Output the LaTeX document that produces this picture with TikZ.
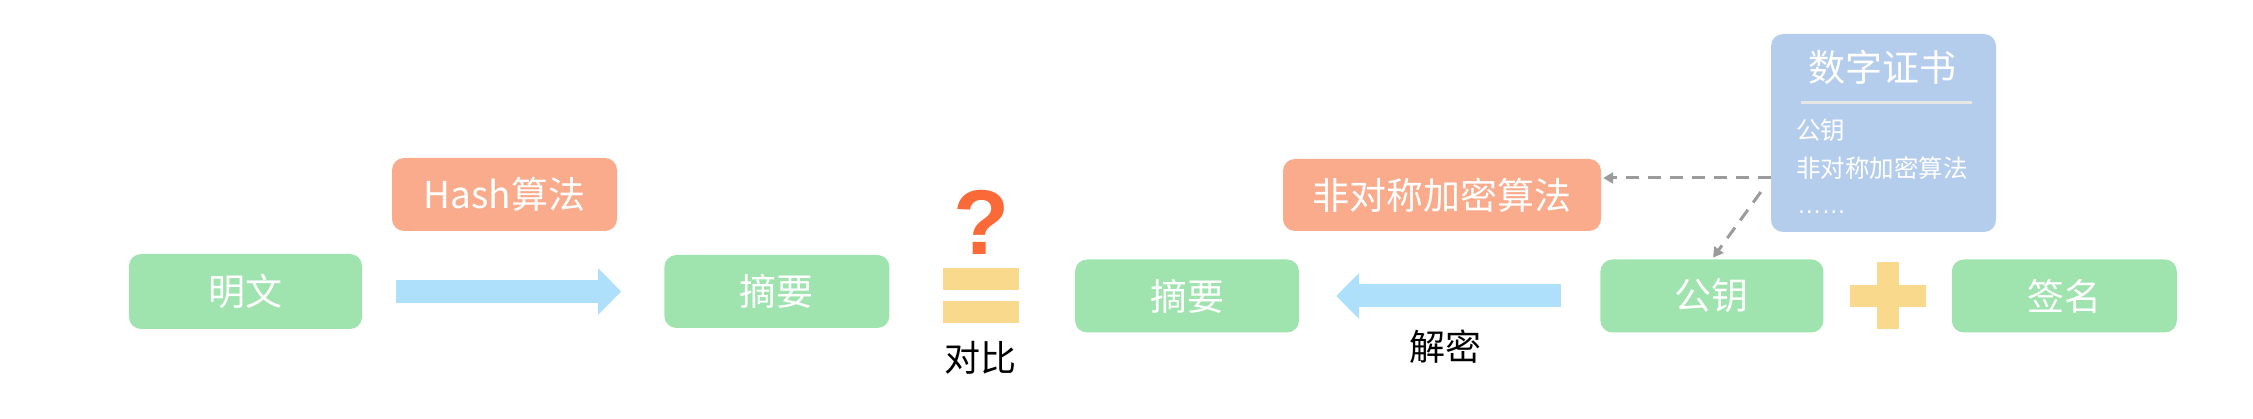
\documentclass[tikz,border=0pt]{standalone}
\usepackage{fontspec}
\setmainfont{Noto Sans CJK SC}
\newfontfamily\qmarkfont{Liberation Sans}
\usetikzlibrary{calc}
\usetikzlibrary{positioning}
\usetikzlibrary{arrows.meta}
\definecolor{boxgreen}{HTML}{9FE3AE}
\definecolor{boxsalmon}{HTML}{FAAB8C}
\definecolor{certblue}{HTML}{B5CDEC}
\definecolor{arrowblue}{HTML}{AEE0FC}
\definecolor{signyellow}{HTML}{F9D98B}
\definecolor{qorange}{HTML}{F96A38}
\definecolor{linegray}{HTML}{9B9B9B}
\definecolor{sepgray}{HTML}{E6E6E6}

\begin{document}
\begin{tikzpicture}[x=1pt, y=1pt,
    greenbox/.style={fill=boxgreen, rounded corners=12pt, minimum width=225pt, minimum height=73pt, inner sep=0pt, text=white, font=\fontsize{37pt}{40pt}\selectfont},
    algobox/.style={greenbox, fill=boxsalmon},
    fatarrow/.style={draw=arrowblue, line width=23pt, -{Triangle[length=23pt, width=45pt]}},
    refarrow/.style={draw=linegray, line width=3pt, dash pattern=on 13pt off 9pt, -{Triangle[length=10pt, width=11pt]}},
    labeltext/.style={inner sep=0pt, font=\fontsize{36pt}{40pt}\selectfont},
    certitem/.style={anchor=west, inner sep=0pt, text=white, font=\fontsize{24.5pt}{28pt}\selectfont}]

    \useasboundingbox (0,0) rectangle (2253,-419);

    % Klartext
    \node[greenbox, minimum width=233pt, minimum height=75pt] (mingwen) at (245.5,-291.5) {明文};
    % Digest 1
    \node[greenbox, right=302pt of mingwen] (zhaiyao1) {摘要};
    \draw[fatarrow, shorten <=34pt, shorten >=43pt] (mingwen) -- (zhaiyao1);
    % Hash
    \node[algobox] (hash) at (504.5,-194.5) {Hash算法};

    % compare
    \coordinate (dengyu) at (981,-295.5);
    \fill[signyellow] ($(dengyu)+(-38,27.5)$) rectangle ($(dengyu)+(38,5.5)$);
    \fill[signyellow] ($(dengyu)+(-38,-5.5)$) rectangle ($(dengyu)+(38,-27.5)$);
    \node[anchor=base, inner sep=0pt, text=qorange, font=\qmarkfont\bfseries\fontsize{92pt}{92pt}\selectfont] (wenhao) at (981.5,-255) {?};
    \node[labeltext] (duibi) at (980,-358) {对比};

    % Digest 2
    \node[greenbox, minimum width=224pt] (zhaiyao2) at (1187,-296) {摘要};
    % public key
    \node[greenbox, minimum width=223pt, right=301pt of zhaiyao2] (gongyao) {公钥};
    \draw[fatarrow, shorten <=39pt, shorten >=37pt] (gongyao) -- (zhaiyao2);
    \node[labeltext] (jiemi) at (1445,-347) {解密};
    % signature
    \node[greenbox, right=128pt of gongyao] (qianming) {签名};
    \coordinate (jia) at ($(gongyao.east)!0.5!(qianming.west)$);
    \fill[signyellow] ($(jia)+(-11,33.5)$) rectangle ($(jia)+(11,-33.5)$);
    \fill[signyellow] ($(jia)+(-38,11)$) rectangle ($(jia)+(38,-11)$);

    % asymmetric algorithm
    \node[algobox, minimum width=318pt, minimum height=72pt] (asym) at (1442,-195) {非对称加密算法};

    % certificate
    \node[fill=certblue, rounded corners=12pt, minimum width=225pt, minimum height=198pt, inner sep=0pt] (cert) at (1883.5,-133) {};
    \node[inner sep=0pt, text=white, font=\fontsize{37pt}{40pt}\selectfont] (certname) at ($(cert.north)+(-1.5,-34)$) {数字证书};
    \draw[sepgray, line width=3pt] ($(cert.north west)+(30,-69)$) -- ($(cert.north east)+(-24,-69)$);
    \node[certitem] (certkey) at ($(cert.north west)+(25,-96)$) {公钥};
    \node[certitem] (certalgo) at ($(cert.north west)+(25,-134)$) {非对称加密算法};
    \node[certitem, anchor=base west, font=\qmarkfont\fontsize{24.5pt}{28pt}\selectfont] (certmore) at ($(cert.north west)+(26,-180)$) {……};

    \coordinate (certout) at ($(cert.west)+(0,-45)$);
    \draw[refarrow, shorten >=2pt] (certout) -- (certout -| asym.east);
    \coordinate (certdown) at ($(cert.west)+(-10,-59)$);
    \draw[refarrow, shorten >=2pt] (certdown) -- (gongyao.north);

\end{tikzpicture}
\end{document}
